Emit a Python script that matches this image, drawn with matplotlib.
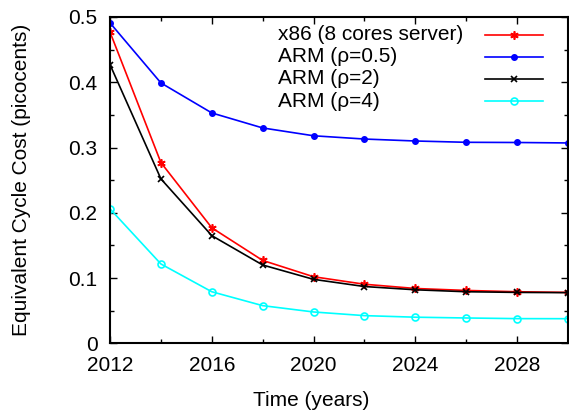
import matplotlib
matplotlib.use("Agg")
import matplotlib.pyplot as plt
from matplotlib.lines import Line2D
from matplotlib.ticker import MultipleLocator

plt.rcParams['font.family'] = ['Liberation Sans', 'DejaVu Sans']

years = [2012, 2014, 2016, 2018, 2020, 2022, 2024, 2026, 2028, 2030]
x86_8core = [0.477, 0.277, 0.177, 0.127, 0.102, 0.0905, 0.084, 0.081, 0.079, 0.078]
arm_rho05 = [0.491, 0.399, 0.353, 0.330, 0.318, 0.313, 0.310, 0.308, 0.3077, 0.307]
arm_rho2 = [0.427, 0.252, 0.165, 0.120, 0.098, 0.087, 0.082, 0.079, 0.078, 0.0776]
arm_rho4 = [0.206, 0.1216, 0.079, 0.0577, 0.048, 0.0424, 0.040, 0.0388, 0.0378, 0.0377]

labels = ["x86 (8 cores server)", "ARM (\u03c1=0.5)", "ARM (\u03c1=2)", "ARM (\u03c1=4)"]

FS = 15

fig = plt.figure(figsize=(5.69, 4.12), dpi=100)
ax = fig.add_axes([110 / 569, (412 - 343.3) / 412, 458 / 569, (343.3 - 17) / 412])

styles = [
    dict(color='#ff0000', lw=1.2, marker=(6, 2, 0), ms=6, mew=1.2),
    dict(color='#0000ff', lw=1.2, marker='o', ms=4),
    dict(color='#000000', lw=1.2, marker='x', ms=5, mew=1.2),
    dict(color='#00ffff', lw=1.2, marker='o', ms=5, mfc='none', mew=1.2),
]
for series, st, lab in zip([x86_8core, arm_rho05, arm_rho2, arm_rho4], styles, labels):
    ax.plot(years, series, label=lab, **st)

ax.set_xlim(2012, 2030)
ax.set_ylim(0, 0.5)
ax.xaxis.set_major_locator(MultipleLocator(4))
ax.xaxis.set_minor_locator(MultipleLocator(2))
ax.yaxis.set_minor_locator(MultipleLocator(0.05))
ax.set_yticks([0, 0.1, 0.2, 0.3, 0.4, 0.5])
ax.set_yticklabels(['0', '0.1', '0.2', '0.3', '0.4', '0.5'])
ax.tick_params(which='both', direction='in', top=True, right=True, labelsize=FS, width=1)
ax.tick_params(which='major', length=5)
ax.tick_params(which='minor', length=3)
ax.tick_params(axis='both', which='major', pad=9)
for s in ax.spines.values():
    s.set_linewidth(1.5)

ax.set_xlabel("Time (years)", fontsize=FS)
ax.xaxis.set_label_coords(0.439, -0.145)
ax.set_ylabel("Equivalent Cycle Cost (picocents)", fontsize=FS)
ax.yaxis.set_label_coords(-0.173, 0.5)

# gnuplot-style key: left-justified labels followed by line samples
key_text_x = 0.367
key_line_x = (0.819, 0.945)
key_top = 0.945
key_step = 0.0675
for i, (st, lab) in enumerate(zip(styles, labels)):
    y = key_top - i * key_step
    ax.text(key_text_x, y, lab, transform=ax.transAxes, fontsize=FS,
            ha='left', va='center')
    x0, x1 = key_line_x
    ax.add_line(Line2D([x0, (x0 + x1) / 2, x1], [y, y, y], transform=ax.transAxes,
                       markevery=[1], clip_on=False, **st))

fig.savefig("out.png", dpi=100)
